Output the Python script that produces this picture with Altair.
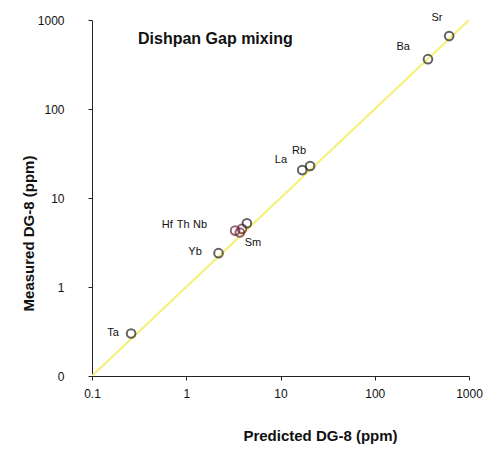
import altair as alt
import pandas as pd

elements = ["Sr", "Ba", "Rb", "La", "Hf", "Th", "Nb", "Sm", "Yb", "Ta"]
predicted = [616, 367, 20.6, 17.0, 3.3, 3.7, 3.9, 4.4, 2.2, 0.26]
measured = [660, 363, 22.9, 20.6, 4.3, 4.1, 4.5, 5.2, 2.4, 0.30]
group = ["a", "a", "a", "a", "b", "b", "b", "a", "a", "a"]
label_x = [457, 200, 15.7, 10.1, 0.63, 0.93, 1.40, 5.1, 1.24, 0.167]
label_y = [1050, 500, 33.8, 26.7, 5.0, 5.0, 5.0, 3.12, 2.47, 0.304]
line_x = [0.1, 1000]
line_y = [0.1, 1000]
ticks = [0.1, 1, 10, 100, 1000]

pts = pd.DataFrame({"el": elements, "pred": predicted, "meas": measured, "g": group,
                    "lx": label_x, "ly": label_y})
ln = pd.DataFrame({"x": line_x, "y": line_y})

FONT = "Liberation Sans"
xs = alt.Scale(type="log", domain=[0.1, 1000])
ys = alt.Scale(type="log", domain=[0.1, 1000])

xaxis = alt.Axis(values=ticks, title="Predicted DG-8 (ppm)", grid=False, labelFlush=False,
                 labelExpr="datum.value < 0.5 ? '0.1' : format(datum.value, 'd')",
                 labelFont=FONT, labelFontSize=12, labelColor="#111", labelPadding=8,
                 titleFont=FONT, titleFontSize=15, titleFontWeight="bold", titleColor="#111",
                 titleX=228, titleY=52, titleAlign="center",
                 domainColor="#222", tickColor="#222", tickSize=4)
yaxis = alt.Axis(values=ticks, title="Measured DG-8 (ppm)", grid=False, labelFlush=False,
                 labelExpr="datum.value < 0.5 ? '0' : format(datum.value, 'd')",
                 labelFont=FONT, labelFontSize=12, labelColor="#111", labelPadding=24,
                 titleFont=FONT, titleFontSize=15, titleFontWeight="bold", titleColor="#111",
                 titleX=-56, titleY=213, titleAlign="center",
                 domainColor="#222", tickColor="#222", tickSize=4)

line = alt.Chart(ln).mark_line(color="#f4f07a", strokeWidth=2, clip=True).encode(
    x=alt.X("x:Q", scale=xs, axis=xaxis),
    y=alt.Y("y:Q", scale=ys, axis=yaxis),
)

points = alt.Chart(pts).mark_point(filled=False, size=75, strokeWidth=2).encode(
    x=alt.X("pred:Q", scale=xs),
    y=alt.Y("meas:Q", scale=ys),
    color=alt.Color("g:N", scale=alt.Scale(domain=["a", "b"], range=["#222222", "#6a2438"]),
                    legend=None),
)

labels = alt.Chart(pts).mark_text(font=FONT, fontSize=11, color="#111").encode(
    x=alt.X("lx:Q", scale=xs),
    y=alt.Y("ly:Q", scale=ys),
    text="el:N",
)

title = alt.Chart(pd.DataFrame({"t": ["Dishpan Gap mixing"]})).mark_text(
    font=FONT, fontSize=16, fontWeight="bold", color="#111", align="left"
).encode(x=alt.value(46), y=alt.value(19), text="t:N")

chart = alt.layer(line, points, labels, title).properties(
    width=377, height=356,
    autosize=alt.AutoSizeParams(type="none"),
    padding={"left": 92, "top": 20, "right": 22, "bottom": 80},
    background="white",
).configure_view(stroke=None)

chart.save("out.html", embed_options={"renderer": "svg", "actions": False})
